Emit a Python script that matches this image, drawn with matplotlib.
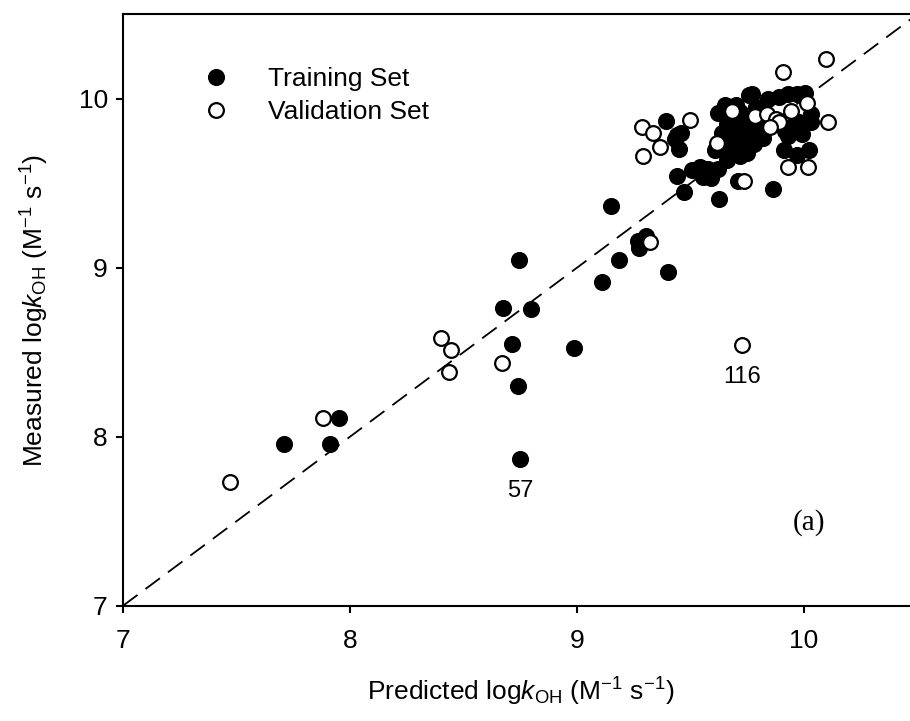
import matplotlib
matplotlib.use("Agg")
import matplotlib.pyplot as plt

plt.rcParams['font.family'] = ['Liberation Sans', 'DejaVu Sans']
plt.rcParams['mathtext.fontset'] = 'custom'
plt.rcParams['mathtext.rm'] = 'Liberation Sans'
plt.rcParams['mathtext.it'] = 'Liberation Sans:italic'

# training set: predicted vs measured log kOH
train_pred = [7.71, 7.91, 7.95,
              8.676, 8.746, 8.798, 8.712, 8.739, 8.749,
              8.988, 9.108, 9.186, 9.149, 9.273, 9.27, 9.302, 9.403,
              9.472, 9.442, 9.505, 9.54, 9.578, 9.622, 9.556, 9.59, 9.627, 9.708, 9.863,
              9.392, 9.44, 9.46, 9.43, 9.45, 9.608,
              9.622, 9.65, 9.66, 9.68, 9.70, 9.72, 9.69, 9.71, 9.73, 9.75, 9.74, 9.76,
              9.78, 9.76, 9.70, 9.80, 9.82, 9.64, 9.67, 9.79, 9.66, 9.72, 9.77,
              9.77, 9.84, 9.89, 9.93, 9.97, 10.005,
              10.03, 10.03, 9.98, 9.94, 9.915, 9.93, 9.99,
              9.91, 9.97, 10.02]
train_meas = [7.955, 7.955, 8.11,
              8.763, 9.046, 8.754, 8.547, 8.302, 7.866,
              8.523, 8.913, 9.046, 9.365, 9.115, 9.158, 9.188, 8.976,
              9.45, 9.543, 9.578, 9.594, 9.582, 9.582, 9.538, 9.529, 9.405, 9.513, 9.464,
              9.87, 9.785, 9.80, 9.76, 9.70, 9.697,
              9.915, 9.96, 9.85, 9.78, 9.72, 9.66, 9.90, 9.82, 9.75, 9.68, 9.88, 9.80,
              9.73, 10.02, 9.96, 9.85, 9.77, 9.80, 9.70, 9.95, 9.64, 9.92, 9.86,
              10.03, 10.0, 10.01, 10.03, 10.03, 10.036,
              9.91, 9.86, 9.86, 9.83, 9.81, 9.78, 9.79,
              9.697, 9.667, 9.697]

# validation set
val_pred = [7.473, 7.879, 8.40, 8.444, 8.437, 8.671, 9.32,
            9.727, 9.737, 9.93, 10.018,
            10.099, 9.909, 10.105,
            9.288, 9.335, 9.364, 9.292, 9.50,
            9.615, 9.685,
            9.785, 9.835, 9.877, 9.89, 9.85, 9.945, 10.013]
val_meas = [7.73, 8.112, 8.586, 8.513, 8.381, 8.438, 9.154,
            8.543, 9.513, 9.598, 9.598,
            10.235, 10.156, 9.864,
            9.831, 9.80, 9.716, 9.661, 9.872,
            9.74, 9.93,
            9.897, 9.907, 9.878, 9.864, 9.834, 9.926, 9.973]

# labelled outliers: (id, predicted, measured)
outliers = [("57", 8.749, 7.866), ("116", 9.727, 8.543)]

lims = [7, 10.5]
ticks = [7, 8, 9, 10]

fig = plt.figure(figsize=(9.10, 7.21), dpi=100)
ax = fig.add_axes([0.1352, 0.1599, 0.873, 0.8204])

ax.plot(lims, lims, color='black', lw=1.3, linestyle=(0, (10, 5.5)), zorder=1)

ax.plot(train_pred, train_meas, 'o', ms=11.3, color='black', mec='black',
        label='Training Set', zorder=2)
ax.plot(val_pred, val_meas, 'o', ms=10.6, mfc='white', mec='black', mew=1.6,
        label='Validation Set', zorder=3)

for lab, xp, ym in outliers:
    ax.text(xp, ym - 0.19, lab, ha='center', va='center', fontsize=17)

ax.text(9.95, 7.49, '(a)', ha='left', va='center', fontsize=21,
        family='Liberation Serif')

ax.set_xlim(lims)
ax.set_ylim(lims)
ax.set_xticks(ticks)
ax.set_yticks(ticks)
ax.tick_params(direction='out', length=5, width=1.5, labelsize=19)
ax.tick_params(axis='x', pad=12)
ax.tick_params(axis='y', pad=6)
for sp in ax.spines.values():
    sp.set_linewidth(1.5)

ax.set_xlabel(r'Predicted log$\mathit{k}_{\mathrm{OH}}$ (M$^{-1}$ s$^{-1}$)',
              fontsize=19, labelpad=16)
ax.set_ylabel(r'Measured log$\mathit{k}_{\mathrm{OH}}$ (M$^{-1}$ s$^{-1}$)',
              fontsize=19, labelpad=20)

ax.legend(loc='upper left', bbox_to_anchor=(0.101, 0.91), frameon=False,
          fontsize=19, handlelength=1.0, handletextpad=1.45, labelspacing=0.32,
          borderpad=0, borderaxespad=0)

fig.savefig('out.png', dpi=100)
